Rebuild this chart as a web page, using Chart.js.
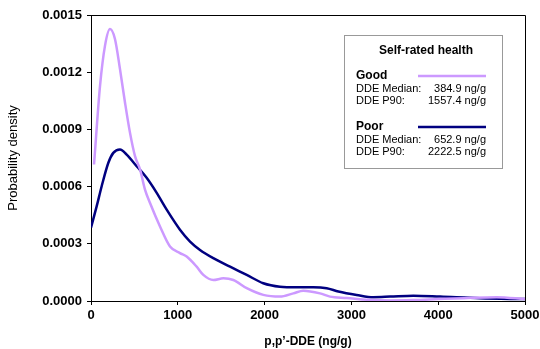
<!DOCTYPE html>
<html lang="en">
<head>
    <meta charset="UTF-8">
    <title>DDE density by self-rated health</title>
    <script src="https://cdn.jsdelivr.net/npm/chart.js"></script>
    <style>
        body { margin: 0; padding: 0; background: #fff; }
        canvas { display: block; }
    </style>
</head>
<body>
    <canvas id="chart" width="540" height="349"></canvas>

    <script>
        // p,p'-DDE (ng/g) vs probability density
        const goodX = [35, 104, 161, 219, 276, 334, 392, 449, 507, 565, 622, 680, 795, 910, 1025, 1102, 1217, 1294, 1409, 1525, 1640, 1794, 1985, 2177, 2331, 2446, 2638, 2753, 2946, 3200, 3450, 3710, 4000, 4300, 4674, 5000];
        const goodY = [0.000716, 0.001128, 0.001338, 0.001426, 0.001374, 0.001216, 0.00104, 0.000883, 0.00076, 0.00069, 0.000584, 0.000514, 0.000391, 0.000286, 0.000251, 0.000233, 0.00018, 0.000137, 0.00011, 0.000119, 0.00011, 0.000067, 0.000032, 0.000023, 0.00004, 0.000054, 0.00004, 0.000023, 0.000016, 0.000006, 0.000003, 0.000005, 0.00001, 0.000015, 0.00002, 0.00001];
        const poorX = [0, 65, 123, 200, 257, 334, 411, 526, 641, 757, 872, 1025, 1141, 1256, 1409, 1602, 1794, 1985, 2177, 2369, 2561, 2715, 2850, 3060, 3253, 3445, 3714, 4022, 4481, 5000];
        const poorY = [0.000385, 0.000496, 0.000602, 0.000725, 0.000777, 0.000795, 0.000768, 0.000707, 0.000646, 0.000567, 0.000479, 0.000374, 0.000312, 0.000268, 0.000225, 0.00018, 0.000137, 0.000093, 0.000075, 0.000072, 0.000072, 0.000067, 0.00005, 0.000032, 0.00002, 0.000023, 0.000028, 0.000023, 0.000014, 0.00001];

        const groups = ['Good', 'Poor'];
        const medians = ['384.9 ng/g', '652.9 ng/g'];
        const p90s = ['1557.4 ng/g', '2222.5 ng/g'];
        const colors = ['#cc99ff', '#000080'];

        const FONT = "Arial, 'Liberation Sans', sans-serif";

        const toPoints = (xs, ys) => xs.map((x, i) => ({ x: x, y: ys[i] }));

        // frame around the plot + the boxed legend
        const extras = {
            id: 'extras',
            afterDraw(chart) {
                const c = chart.ctx;
                const a = chart.chartArea;
                c.save();
                c.strokeStyle = '#000';
                c.lineWidth = 1;
                c.beginPath();
                c.moveTo(a.left, a.top + 0.5);
                c.lineTo(a.right + 0.5, a.top + 0.5);
                c.lineTo(a.right + 0.5, a.bottom);
                c.stroke();

                // legend box
                c.fillStyle = '#fff';
                c.fillRect(344, 35, 158, 133);
                c.strokeStyle = '#999';
                c.strokeRect(344.5, 35.5, 158, 133);

                c.fillStyle = '#000';
                c.textBaseline = 'middle';
                c.font = 'bold 12px ' + FONT;
                c.textAlign = 'center';
                c.fillText('Self-rated health', 426, 51);

                const rows = [76, 127];
                groups.forEach((g, i) => {
                    const y = rows[i];
                    c.textAlign = 'left';
                    c.font = 'bold 12px ' + FONT;
                    c.fillText(g, 356, y);
                    c.strokeStyle = colors[i];
                    c.lineWidth = 2.5;
                    c.beginPath();
                    c.moveTo(418, y);
                    c.lineTo(486, y);
                    c.stroke();
                    c.font = '11px ' + FONT;
                    c.fillText('DDE Median:', 356, y + 13);
                    c.fillText('DDE P90:', 356, y + 25);
                    c.textAlign = 'right';
                    c.fillText(medians[i], 486, y + 13);
                    c.fillText(p90s[i], 486, y + 25);
                });
                c.restore();
            }
        };

        const ctx = document.getElementById('chart').getContext('2d');
        new Chart(ctx, {
            type: 'line',
            data: {
                datasets: [
                    { label: groups[0], data: toPoints(goodX, goodY), borderColor: colors[0], borderWidth: 2.5 },
                    { label: groups[1], data: toPoints(poorX, poorY), borderColor: colors[1], borderWidth: 2.5 }
                ]
            },
            options: {
                responsive: false,
                animation: false,
                devicePixelRatio: 1,
                layout: { padding: { top: 15, right: 0, left: 0, bottom: 0 } },
                elements: {
                    point: { radius: 0 },
                    line: { cubicInterpolationMode: 'monotone', fill: false }
                },
                plugins: { legend: { display: false }, tooltip: { enabled: false } },
                scales: {
                    x: {
                        type: 'linear',
                        min: 0,
                        max: 5000,
                        afterFit: s => { s.height = 48; s.paddingRight = 15; },
                        border: { color: '#000', width: 1 },
                        grid: { drawOnChartArea: false, color: '#000', tickLength: 4 },
                        ticks: { stepSize: 1000, color: '#000', padding: 3, maxRotation: 0, callback: v => String(v), font: { family: FONT, size: 13, weight: 'bold' } },
                        title: { display: true, text: 'p,p\u2019-DDE (ng/g)', color: '#000', padding: { top: 4, bottom: 0 }, font: { family: FONT, size: 12, weight: 'bold' } }
                    },
                    y: {
                        min: 0,
                        max: 0.0015,
                        afterFit: s => { s.width = 91; },
                        border: { color: '#000', width: 1 },
                        grid: { drawOnChartArea: false, color: '#000', tickLength: 4 },
                        ticks: { stepSize: 0.0003, color: '#000', padding: 5, callback: v => v.toFixed(4), font: { family: FONT, size: 13, weight: 'bold' } },
                        title: { display: true, text: 'Probability density', color: '#000', padding: { top: 6, bottom: 0 }, font: { family: FONT, size: 13 } }
                    }
                }
            },
            plugins: [extras]
        });
    </script>
</body>
</html>
